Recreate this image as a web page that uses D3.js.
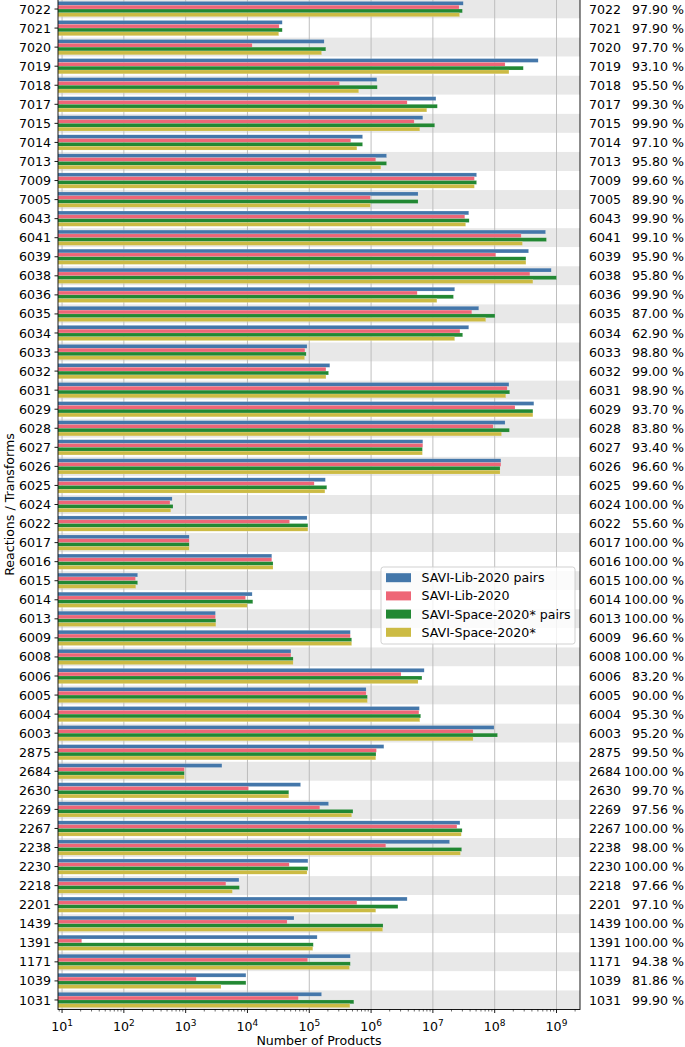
<html>
<head>
<script src="https://d3js.org/d3.v7.min.js"></script>
<style>
	body { margin: 0; background: white; }
	svg { display: block; font-family: "DejaVu Sans", sans-serif; }
</style>
</head>
<body>
<script>
	// categories (top to bottom) and the share shown on the right
	var reactions = ["7022","7021","7020","7019","7018","7017","7015","7014","7013","7009","7005",
		"6043","6041","6039","6038","6036","6035","6034","6033","6032","6031","6029","6028","6027",
		"6026","6025","6024","6022","6017","6016","6015","6014","6013","6009","6008","6006","6005",
		"6004","6003","2875","2684","2630","2269","2267","2238","2230","2218","2201","1439","1391",
		"1171","1039","1031"];
	var percents = ["97.90","97.90","97.70","93.10","95.50","99.30","99.90","97.10","95.80","99.60","89.90",
		"99.90","99.10","95.90","95.80","99.90","87.00","62.90","98.80","99.00","98.90","93.70","83.80","93.40",
		"96.60","99.60","100.00","55.60","100.00","100.00","100.00","100.00","100.00","96.60","100.00","83.20","90.00",
		"95.30","95.20","99.50","100.00","99.70","97.56","100.00","98.00","100.00","97.66","97.10","100.00","100.00",
		"94.38","81.86","99.90"];

	var seriesNames = ["SAVI-Lib-2020 pairs","SAVI-Lib-2020","SAVI-Space-2020* pairs","SAVI-Space-2020*"];
	var colors = ["#4477AA","#EE6677","#228833","#CCBB44"];

	var libPairs = [3.1e7,3.65e4,1.74e5,5.05e8,1.24e6,1.12e7,6.87e6,7.28e5,1.78e6,5.09e7,5.75e6,
		3.8e7,6.65e8,3.53e8,8.22e8,2.25e7,5.52e7,3.8e7,9.2e4,2.15e5,1.7e8,4.3e8,1.47e8,6.87e6,
		1.26e8,1.82e5,604,9.2e4,1140,2.47e4,167,1.19e4,3030,4.61e5,5.05e4,7.23e6,8.3e5,
		6.04e6,9.75e7,1.61e6,3860,7.23e4,2.05e5,2.74e7,1.86e7,9.5e4,7280,3.83e6,5.66e4,1.34e5,
		4.61e5,9440,1.58e5];
	var lib = [2.65e7,3.25e4,1.19e4,1.47e8,3.08e5,3.83e6,4.97e6,4.69e5,1.19e6,4.69e7,9.75e5,
		3.28e7,2.68e8,1.04e8,3.71e8,5.57e6,4.26e7,2.74e7,8.5e4,1.86e5,1.59e8,2.13e8,9.44e7,6.87e6,
		1.26e8,1.2e5,557,4.8e4,1140,2.47e4,154,9.3e3,3030,4.61e5,5.05e4,3.05e6,8.3e5,
		5.94e6,4.47e7,1.22e6,953,1.04e4,1.48e5,2.45e7,1.73e6,4.73e4,4470,5.89e5,4.37e4,20.8,
		9.4e4,1480,6.65e4];
	var spacePairs = [3.0e7,3.65e4,1.85e5,2.9e8,1.26e6,1.18e7,1.07e7,7.28e5,1.78e6,5.09e7,5.75e6,
		3.86e7,6.87e8,3.2e8,1.0e9,2.15e7,1.01e8,3.03e7,8.9e4,2.05e5,1.75e8,4.15e8,1.73e8,6.76e6,
		1.22e8,1.92e5,624,9.5e4,1140,2.59e4,167,1.22e4,3080,4.85e5,5.48e4,6.65e6,8.71e5,
		6.34e6,1.11e8,1.2e6,953,4.66e4,5.09e5,2.97e7,2.92e7,9.5e4,7400,2.72e6,1.56e6,1.16e5,
		4.61e5,9440,5.26e5];
	var space = [2.7e7,3.2e4,1.58e5,1.7e8,6.3e5,7.96e6,6.14e6,5.89e5,1.44e6,4.69e7,9.75e5,
		3.39e7,2.81e8,3.2e8,4.15e8,1.16e7,7.16e7,2.25e7,8.4e4,1.86e5,1.51e8,4.15e8,1.29e8,6.76e6,
		1.22e8,1.79e5,575,9.5e4,1140,2.59e4,156,9.9e3,3080,4.85e5,5.48e4,5.75e6,8.71e5,
		6.14e6,4.47e7,1.19e6,953,4.66e4,4.85e5,2.88e7,2.79e7,9.2e4,5700,1.19e6,1.54e6,1.14e5,
		4.47e5,3730,4.54e5];
	var series = [libPairs, lib, spacePairs, space];

	var xTicks = [1e1,1e2,1e3,1e4,1e5,1e6,1e7,1e8,1e9];

	var width = 685, height = 1047;
	var plotL = 58, plotR = 580, plotT = -0.5, plotB = 1009.5;
	var fs = 12.6;

	var svg = d3.select("body").append("svg")
		.attr("width", width).attr("height", height);

	var x = d3.scaleLog().domain([8.6, 2.4e9]).range([plotL, plotR]);
	var y = d3.scaleBand().domain(reactions).range([plotT, plotB]).paddingInner(0).paddingOuter(0);
	var step = y.bandwidth();
	var barH = step * 0.2;

	// alternating bands
	svg.append("g").selectAll("rect")
		.data(reactions)
		.enter().append("rect")
		.attr("x", plotL)
		.attr("y", function(d){ return y(d); })
		.attr("width", plotR - plotL)
		.attr("height", step)
		.attr("fill", function(d,i){ return i % 2 == 0 ? "#e8e8e8" : "white"; });

	// vertical grid
	svg.append("g").selectAll("line")
		.data(xTicks)
		.enter().append("line")
		.attr("x1", function(d){ return x(d); })
		.attr("x2", function(d){ return x(d); })
		.attr("y1", plotT).attr("y2", plotB)
		.attr("stroke", "#b8b8b8")
		.attr("stroke-width", 0.9);

	// bars
	series.forEach(function(vals, s){
		svg.append("g").selectAll("rect")
			.data(vals)
			.enter().append("rect")
			.attr("x", plotL)
			.attr("y", function(d,i){ return y(reactions[i]) + step*0.1 + s*barH; })
			.attr("width", function(d){ return x(d) - plotL; })
			.attr("height", barH)
			.attr("fill", colors[s])
			.attr("stroke", "white")
			.attr("stroke-opacity", 0.35)
			.attr("stroke-width", 0.4);
	});

	// frame
	svg.append("rect")
		.attr("x", plotL).attr("y", plotT)
		.attr("width", plotR - plotL).attr("height", plotB - plotT)
		.attr("fill", "none").attr("stroke", "black").attr("stroke-width", 0.9);

	// left axis
	var yAxis = svg.append("g");
	yAxis.selectAll("line")
		.data(reactions)
		.enter().append("line")
		.attr("x1", plotL - 3.5).attr("x2", plotL)
		.attr("y1", function(d){ return y(d) + step/2; })
		.attr("y2", function(d){ return y(d) + step/2; })
		.attr("stroke", "black").attr("stroke-width", 0.9);
	yAxis.selectAll("text")
		.data(reactions)
		.enter().append("text")
		.attr("x", plotL - 7)
		.attr("y", function(d){ return y(d) + step/2; })
		.attr("dy", "0.36em")
		.attr("text-anchor", "end")
		.attr("font-size", fs)
		.text(function(d){ return d; });

	// right labels
	var rLab = svg.append("g");
	rLab.selectAll("text.num")
		.data(reactions)
		.enter().append("text")
		.attr("class", "num")
		.attr("x", 589)
		.attr("y", function(d){ return y(d) + step/2; })
		.attr("dy", "0.36em")
		.attr("font-size", fs)
		.text(function(d){ return d; });
	rLab.selectAll("text.pct")
		.data(percents)
		.enter().append("text")
		.attr("class", "pct")
		.attr("x", 684)
		.attr("y", function(d,i){ return y(reactions[i]) + step/2; })
		.attr("dy", "0.36em")
		.attr("text-anchor", "end")
		.attr("font-size", fs)
		.text(function(d){ return d + " %"; });

	// bottom axis
	var xAxis = svg.append("g");
	var minor = [];
	for (var e = 0; e <= 9; e++) {
		for (var m = 2; m <= 9; m++) {
			var v = m * Math.pow(10, e);
			if (v >= x.domain()[0] && v <= x.domain()[1]) minor.push(v);
		}
	}
	xAxis.selectAll("line.minor")
		.data(minor)
		.enter().append("line")
		.attr("class", "minor")
		.attr("x1", function(d){ return x(d); })
		.attr("x2", function(d){ return x(d); })
		.attr("y1", plotB).attr("y2", plotB + 2)
		.attr("stroke", "black").attr("stroke-width", 0.6);
	xAxis.selectAll("line.major")
		.data(xTicks)
		.enter().append("line")
		.attr("class", "major")
		.attr("x1", function(d){ return x(d); })
		.attr("x2", function(d){ return x(d); })
		.attr("y1", plotB).attr("y2", plotB + 3.5)
		.attr("stroke", "black").attr("stroke-width", 0.9);
	var tl = xAxis.selectAll("text")
		.data(xTicks)
		.enter().append("text")
		.attr("x", function(d){ return x(d); })
		.attr("y", plotB + 21.5)
		.attr("text-anchor", "middle")
		.attr("font-size", fs);
	tl.append("tspan").text("10");
	tl.append("tspan")
		.attr("dy", -5.5)
		.attr("font-size", 9)
		.text(function(d){ return Math.round(Math.log10(d)); });

	svg.append("text")
		.attr("x", (plotL + plotR) / 2)
		.attr("y", 1045)
		.attr("text-anchor", "middle")
		.attr("font-size", fs)
		.text("Number of Products");

	svg.append("text")
		.attr("transform", "translate(14," + ((plotT + plotB) / 2) + ") rotate(-90)")
		.attr("text-anchor", "middle")
		.attr("font-size", fs)
		.text("Reactions / Transforms");

	// legend
	var lg = svg.append("g").attr("transform", "translate(381,567)");
	lg.append("rect")
		.attr("width", 194).attr("height", 77)
		.attr("rx", 2.5)
		.attr("fill", "white").attr("fill-opacity", 0.8)
		.attr("stroke", "#cccccc").attr("stroke-width", 0.9);
	var items = lg.selectAll("g.item")
		.data(seriesNames)
		.enter().append("g")
		.attr("class", "item")
		.attr("transform", function(d,i){ return "translate(0," + (10.7 + i*18.2) + ")"; });
	items.append("rect")
		.attr("x", 5).attr("y", -4.5)
		.attr("width", 25).attr("height", 9)
		.attr("fill", function(d,i){ return colors[i]; });
	items.append("text")
		.attr("x", 40.5).attr("y", 0)
		.attr("dy", "0.36em")
		.attr("font-size", fs)
		.text(function(d){ return d; });
</script>
</body>
</html>
